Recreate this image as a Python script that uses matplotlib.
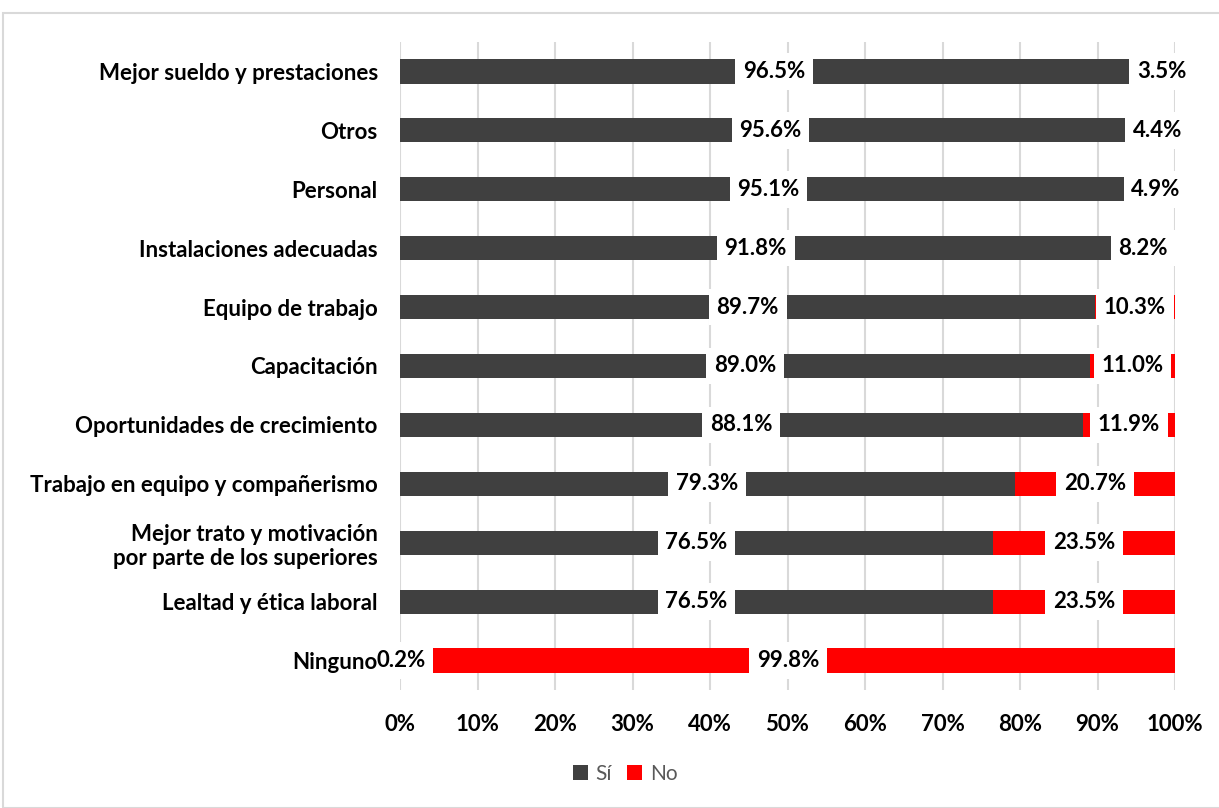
import matplotlib
matplotlib.use("Agg")
import matplotlib.pyplot as plt
from matplotlib.patches import Rectangle
from matplotlib.ticker import PercentFormatter

categories = [
    "Mejor sueldo y prestaciones",
    "Otros",
    "Personal",
    "Instalaciones adecuadas",
    "Equipo de trabajo",
    "Capacitación",
    "Oportunidades de crecimiento",
    "Trabajo en equipo y compañerismo",
    "Mejor trato y motivación\npor parte de los superiores",
    "Lealtad y ética laboral",
    "Ninguno",
]
si_values = [96.5, 95.6, 95.1, 91.8, 89.7, 89.0, 88.1, 79.3, 76.5, 76.5, 0.2]
no_values = [3.5, 4.4, 4.9, 8.2, 10.3, 11.0, 11.9, 20.7, 23.5, 23.5, 99.8]
series_names = ["Sí", "No"]
colors = ["#404040", "#ff0000"]
xticks = [0, 10, 20, 30, 40, 50, 60, 70, 80, 90, 100]

plt.rcParams['font.family'] = ['Lato', 'DejaVu Sans']

fig = plt.figure(figsize=(12.19, 8.08), dpi=100)
ax = fig.add_axes([400/1219, (808-690)/808, 775/1219, (690-42)/808])

# outer frame
fig.patches.append(Rectangle((3/1219, 0), 1.0, (808-13)/808, transform=fig.transFigure,
                             fill=False, edgecolor="#d9d9d9", linewidth=1.5, zorder=0))

ypos = list(range(len(categories)))
bars_si = ax.barh(ypos, si_values, height=0.41, color=colors[0], label=series_names[0], zorder=2)
bars_no = ax.barh(ypos, no_values, left=si_values, height=0.41, color=colors[1], label=series_names[1], zorder=2)

for bars in (bars_si, bars_no):
    for b in bars:
        v = b.get_width()
        cx = b.get_x() + v / 2
        cy = b.get_y() + b.get_height() / 2
        ax.text(cx, cy, f"{v:.1f}%", ha="center", va="center", fontsize=16,
                fontweight="bold", color="black", zorder=4,
                bbox=dict(boxstyle="square,pad=0.35", facecolor="white", edgecolor="none"))

ax.set_xlim(0, 100)
ax.set_ylim(len(categories) - 0.5, -0.5)
ax.set_yticks(ypos)
ax.set_yticklabels(categories, fontsize=16, fontweight="bold")
ax.set_xticks(xticks)
ax.xaxis.set_major_formatter(PercentFormatter(decimals=0))
for lab in ax.get_xticklabels():
    lab.set_fontweight("bold")
    lab.set_fontsize(16)
ax.tick_params(axis="both", length=0)
ax.tick_params(axis="x", pad=17)
ax.tick_params(axis="y", pad=16)
ax.grid(axis="x", color="#d9d9d9", linewidth=1.5, zorder=0)
ax.set_axisbelow(True)
ax.yaxis.set_zorder(5)
for s in ax.spines.values():
    s.set_visible(False)

leg = fig.legend(handles=[bars_si, bars_no], labels=series_names, loc="center",
                 bbox_to_anchor=(625/1219, (808-774)/808), ncol=2, frameon=False,
                 fontsize=15, handlelength=0.75, handleheight=0.75, handletextpad=0.35,
                 columnspacing=0.7)
for t in leg.get_texts():
    t.set_color("#595959")

fig.savefig("out.png", dpi=100)
